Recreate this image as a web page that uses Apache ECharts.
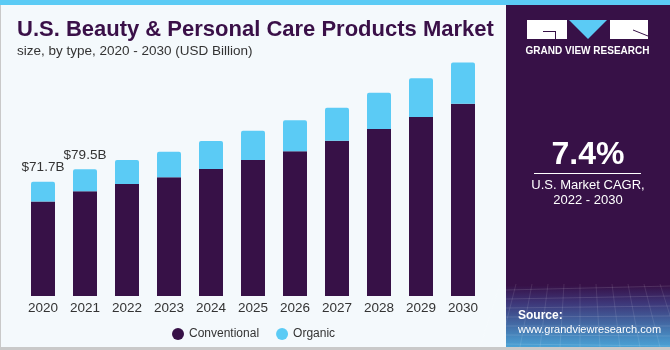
<!DOCTYPE html>
<html>
<head>
<meta charset="utf-8">
<script src="https://cdn.jsdelivr.net/npm/echarts@6/dist/echarts.min.js"></script>
<style>
  html, body { margin: 0; padding: 0; background: #f4f9fc; }
  #main { width: 670px; height: 350px; }
</style>
</head>
<body>
<div id="main"></div>
<script>
// 数据
var years = ["2020", "2021", "2022", "2023", "2024", "2025", "2026", "2027", "2028", "2029", "2030"];
var conventional = [59.2, 65.7, 70.3, 74.5, 79.7, 85.3, 90.8, 97.4, 104.8, 112.3, 120.6];
var organic = [12.5, 13.8, 15.0, 16.0, 17.5, 18.4, 19.4, 20.7, 22.6, 24.3, 25.8];
var totalLabels = ["$71.7B", "$79.5B"];

var purple = "#371147";
var cyan = "#5bcbf5";

var myChart = echarts.init(document.getElementById("main"));

// 右下角的网格纹理（装饰）
var mesh = [];
for (var i = 0; i < 7; i++) {
  mesh.push({
    type: "line",
    shape: { x1: 506, y1: 290 + i * 9, x2: 670, y2: 286 + i * 10 },
    style: { stroke: "rgba(255,255,255,0.12)", lineWidth: 1 },
  });
}
for (var j = 0; j < 12; j++) {
  mesh.push({
    type: "line",
    shape: { x1: 500 + j * 16, y1: 284, x2: 480 + j * 20, y2: 347 },
    style: { stroke: "rgba(255,255,255,0.1)", lineWidth: 1 },
  });
}

var option = {
  backgroundColor: "#f4f9fc",
  animation: false,
  textStyle: { fontFamily: "Liberation Sans, Arial, sans-serif" },
  title: {
    text: "U.S. Beauty & Personal Care Products Market",
    subtext: "size, by type, 2020 - 2030 (USD Billion)",
    left: 12,
    top: 14,
    itemGap: 3,
    textStyle: { color: "#3a1048", fontSize: 22, fontWeight: "bold", fontFamily: "Liberation Sans" },
    subtextStyle: { color: "#333", fontSize: 13.5, fontFamily: "Liberation Sans" },
  },
  legend: {
    data: ["Conventional", "Organic"],
    left: 167,
    top: 323,
    icon: "circle",
    itemWidth: 12,
    itemHeight: 12,
    itemGap: 17,
    textStyle: { color: "#333", fontSize: 12 },
  },
  grid: {
    left: 22,
    top: 60,
    width: 462,
    height: 236,
  },
  xAxis: {
    type: "category",
    data: years,
    axisLine: { show: false },
    axisTick: { show: false },
    axisLabel: { color: "#333", fontSize: 13.5, margin: 5 },
  },
  yAxis: {
    type: "value",
    min: 0,
    max: 148,
    show: false,
    splitLine: { show: false },
  },
  series: [
    {
      name: "Conventional",
      type: "bar",
      stack: "total",
      barWidth: 24,
      itemStyle: { color: purple },
      data: conventional,
    },
    {
      name: "Organic",
      type: "bar",
      stack: "total",
      barWidth: 24,
      itemStyle: { color: cyan, borderRadius: [2, 2, 0, 0] },
      label: {
        show: true,
        position: "top",
        distance: 7,
        color: "#333",
        fontSize: 13.5,
        formatter: function (p) {
          return totalLabels[p.dataIndex] || "";
        },
      },
      data: organic,
    },
  ],
  // 右侧面板和边框
  graphic: [
    { type: "rect", shape: { x: 0, y: 0, width: 670, height: 5 }, style: { fill: cyan } },
    { type: "rect", shape: { x: 0, y: 5, width: 1, height: 345 }, style: { fill: "#c9c9c9" } },
    { type: "rect", shape: { x: 0, y: 347, width: 670, height: 3 }, style: { fill: "#c9c9c9" } },
    {
      type: "rect",
      shape: { x: 506, y: 5, width: 164, height: 342 },
      style: {
        fill: new echarts.graphic.LinearGradient(0, 0, 0, 1, [
          { offset: 0, color: purple },
          { offset: 0.82, color: purple },
          { offset: 0.87, color: "#3d3577" },
          { offset: 1, color: "#4aa3d6" },
        ]),
      },
    },
  ].concat(mesh, [
    // logo
    { type: "rect", shape: { x: 527, y: 20, width: 40, height: 19 }, style: { fill: "#fff" } },
    { type: "rect", shape: { x: 543, y: 31, width: 12, height: 1 }, style: { fill: purple } },
    { type: "rect", shape: { x: 555, y: 31, width: 1, height: 8 }, style: { fill: purple } },
    { type: "polygon", shape: { points: [[569, 20], [607, 20], [588, 39]] }, style: { fill: cyan } },
    { type: "rect", shape: { x: 610, y: 20, width: 38, height: 19 }, style: { fill: "#fff" } },
    { type: "line", shape: { x1: 633, y1: 30, x2: 648, y2: 36 }, style: { stroke: purple, lineWidth: 1 } },
    {
      type: "text",
      x: 587.5,
      y: 51,
      style: {
        text: "GRAND VIEW RESEARCH",
        fill: "#fff",
        font: "bold 10px Liberation Sans",
        align: "center",
        verticalAlign: "middle",
      },
    },
    {
      type: "text",
      x: 588,
      y: 155,
      style: {
        text: "7.4%",
        fill: "#fff",
        font: "bold 32px Liberation Sans",
        align: "center",
        verticalAlign: "middle",
      },
    },
    { type: "rect", shape: { x: 534, y: 173, width: 107, height: 1 }, style: { fill: "#fff" } },
    {
      type: "text",
      x: 588,
      y: 193,
      style: {
        text: "U.S. Market CAGR,\n2022 - 2030",
        fill: "#fff",
        font: "13px Liberation Sans",
        lineHeight: 15,
        align: "center",
        verticalAlign: "middle",
      },
    },
    {
      type: "text",
      x: 518,
      y: 316,
      style: {
        text: "Source:",
        fill: "#fff",
        font: "bold 12px Liberation Sans",
        verticalAlign: "middle",
      },
    },
    {
      type: "text",
      x: 518,
      y: 330,
      style: {
        text: "www.grandviewresearch.com",
        fill: "#fff",
        font: "11px Liberation Sans",
        verticalAlign: "middle",
      },
    },
  ]),
};

myChart.setOption(option);
</script>
</body>
</html>
